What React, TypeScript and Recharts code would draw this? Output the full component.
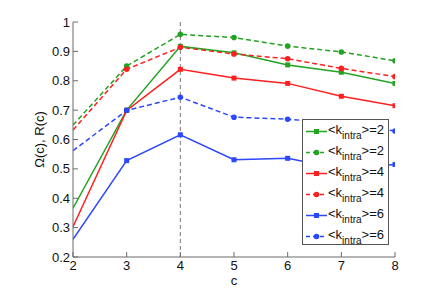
import React from "react";
import { LineChart, Line, XAxis, YAxis, ReferenceLine, Legend } from "recharts";

const cValues = [2, 3, 4, 5, 6, 7, 8];
const omegaK2 = [0.366, 0.7, 0.917, 0.895, 0.854, 0.829, 0.791];
const rK2 = [0.649, 0.85, 0.958, 0.947, 0.918, 0.898, 0.868];
const omegaK4 = [0.303, 0.699, 0.839, 0.809, 0.791, 0.747, 0.715];
const rK4 = [0.632, 0.839, 0.914, 0.891, 0.875, 0.842, 0.814];
const omegaK6 = [0.26, 0.528, 0.616, 0.531, 0.536, 0.5, 0.515];
const rK6 = [0.562, 0.699, 0.744, 0.676, 0.669, 0.655, 0.629];

const xTicks = [2, 3, 4, 5, 6, 7, 8];
const yTicks = [0.2, 0.3, 0.4, 0.5, 0.6, 0.7, 0.8, 0.9, 1];

const GREEN = "#22a322";
const RED = "#ff1f1f";
const BLUE = "#2b47ff";
const AXIS = "#6b6b6b";
const FONT = "'Liberation Sans', Arial, sans-serif";

const series = [
  { key: "omegaK2", k: "2", color: GREEN, dashed: false },
  { key: "rK2", k: "2", color: GREEN, dashed: true },
  { key: "omegaK4", k: "4", color: RED, dashed: false },
  { key: "rK4", k: "4", color: RED, dashed: true },
  { key: "omegaK6", k: "6", color: BLUE, dashed: false },
  { key: "rK6", k: "6", color: BLUE, dashed: true },
];

const data = cValues.map((c, i) => ({
  c,
  omegaK2: omegaK2[i],
  rK2: rK2[i],
  omegaK4: omegaK4[i],
  rK4: rK4[i],
  omegaK6: omegaK6[i],
  rK6: rK6[i],
}));

const makeDot = (color: string, square: boolean) => (props: any) => {
  const { cx, cy, index } = props;
  if (index === 0 || cx == null || cy == null) return <g key={index} />;
  if (square) {
    return <rect key={index} x={cx - 2.5} y={cy - 2.5} width={5} height={5} fill={color} />;
  }
  return <circle key={index} cx={cx} cy={cy} r={2.8} fill={color} />;
};

function LegendBox() {
  return (
    <div
      style={{
        width: 87,
        height: 126,
        border: "1px solid #555",
        background: "#fff",
        fontFamily: FONT,
        color: "#111",
        boxSizing: "border-box",
        paddingTop: 1,
      }}
    >
      {series.map((s) => (
        <div key={s.key} style={{ height: 21, position: "relative" }}>
          <svg width={22} height={21} style={{ position: "absolute", left: 3, top: 0 }}>
            <line
              x1={0}
              y1={10.5}
              x2={21}
              y2={10.5}
              stroke={s.color}
              strokeWidth={1.5}
              strokeDasharray={s.dashed ? "4 3" : undefined}
            />
            {s.dashed ? (
              <circle cx={10.5} cy={10.5} r={2.8} fill={s.color} />
            ) : (
              <rect x={8} y={8} width={5} height={5} fill={s.color} />
            )}
          </svg>
          <span style={{ position: "absolute", left: 25, top: 1, fontSize: 13, whiteSpace: "nowrap" }}>
            {"<k"}
            <span style={{ fontSize: 10, position: "relative", top: 5 }}>intra</span>
            {">=" + s.k}
          </span>
        </div>
      ))}
    </div>
  );
}

export default function App() {
  return (
    <div style={{ position: "absolute", left: 0, top: 0, background: "#fff" }}>
      <LineChart width={436} height={299} data={data} margin={{ top: 22, right: 41, bottom: 0, left: 0 }}>
        <XAxis
          dataKey="c"
          type="number"
          domain={[2, 8]}
          ticks={xTicks}
          allowDataOverflow
          height={42}
          stroke={AXIS}
          tickSize={-5}
          tickMargin={9}
          tick={{ fill: "#111", fontSize: 13, fontFamily: FONT }}
          label={{ value: "c", position: "center", dy: 2, fill: "#111", fontSize: 13, fontFamily: FONT }}
        />
        <XAxis
          xAxisId="top"
          orientation="top"
          dataKey="c"
          type="number"
          domain={[2, 8]}
          ticks={xTicks}
          allowDataOverflow
          height={0}
          stroke={AXIS}
          tickSize={-5}
          tickFormatter={() => ""}
        />
        <YAxis
          type="number"
          domain={[0.2, 1]}
          ticks={yTicks}
          allowDataOverflow
          width={73}
          stroke={AXIS}
          tickSize={-5}
          tickMargin={8}
          tickFormatter={(v: number) => String(Math.round(v * 10) / 10)}
          tick={{ fill: "#111", fontSize: 13, fontFamily: FONT }}
          label={{ value: "Ω(c), R(c)", angle: -90, position: "center", dx: 3, fill: "#111", fontSize: 13, fontFamily: FONT }}
        />
        <YAxis
          yAxisId="right"
          orientation="right"
          type="number"
          domain={[0.2, 1]}
          ticks={yTicks}
          allowDataOverflow
          width={0}
          stroke={AXIS}
          tickSize={-5}
          tickFormatter={() => ""}
        />
        <ReferenceLine x={4} stroke="#777" strokeDasharray="4 3" strokeWidth={1} />
        {series.map((s) => (
          <Line
            key={s.key}
            dataKey={s.key}
            type="linear"
            stroke={s.color}
            strokeWidth={1.5}
            strokeDasharray={s.dashed ? "5 3" : undefined}
            dot={makeDot(s.color, !s.dashed)}
            activeDot={false}
            isAnimationActive={false}
          />
        ))}
        <Legend
          layout="vertical"
          align="center"
          verticalAlign="middle"
          content={() => <LegendBox />}
          wrapperStyle={{ position: "absolute", left: 302, top: 119, width: 87, height: 126 }}
        />
      </LineChart>
    </div>
  );
}
